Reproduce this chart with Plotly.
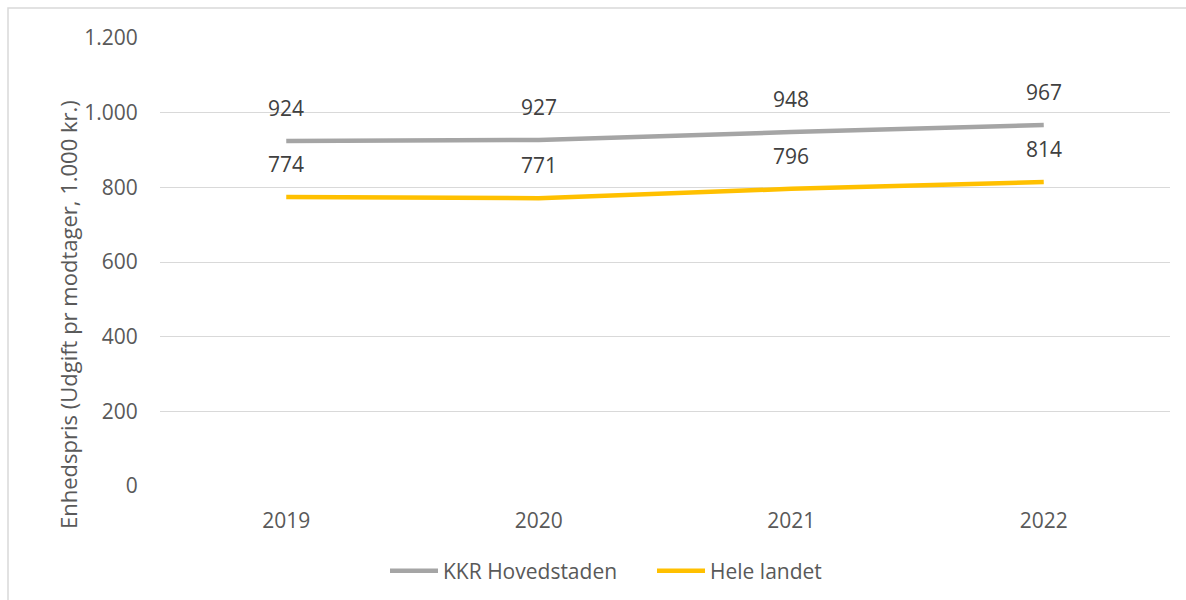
import plotly.graph_objects as go

years = ["2019", "2020", "2021", "2022"]
kkr_hovedstaden = [924, 927, 948, 967]
hele_landet = [774, 771, 796, 814]
y_ticks = [0, 200, 400, 600, 800, 1000, 1200]
y_tick_labels = ["0", "200", "400", "600", "800", "1.000", "1.200"]

series = [
    ("KKR Hovedstaden", kkr_hovedstaden, "#A5A5A5"),
    ("Hele landet", hele_landet, "#FFC000"),
]

FONT = "Open Sans"
SIZE = 21
fig = go.Figure()
annotations = []
for name, values, color in series:
    fig.add_trace(go.Scatter(
        x=years, y=values, name=name, mode="lines",
        line=dict(color=color, width=4.5),
    ))
    # value labels above each point (category index as x position)
    for i, v in enumerate(values):
        annotations.append(dict(
            x=i, y=v, xref="x", yref="y", text=str(v), showarrow=False,
            yshift=33, xanchor="center", yanchor="middle",
            font=dict(family=FONT, size=SIZE, color="#404040"),
        ))

# rotated axis title
annotations.append(dict(
    x=(68 - 160) / 1010, y=(486 - 315) / 448, xref="paper", yref="paper",
    text="Enhedspris (Udgift pr modtager, 1.000 kr.)",
    showarrow=False, textangle=-90, xanchor="center", yanchor="middle",
    font=dict(family=FONT, size=22, color="#595959"),
))

fig.update_layout(
    width=1186, height=600,
    margin=dict(l=160, r=16, t=38, b=114, autoexpand=False),
    paper_bgcolor="white", plot_bgcolor="white",
    font=dict(family=FONT, size=SIZE, color="#595959"),
    showlegend=True,
    legend=dict(
        orientation="h", x=(385 - 160) / 1010, xanchor="left",
        y=-0.19, yanchor="middle",
        font=dict(family=FONT, size=SIZE, color="#595959"),
        itemwidth=48, entrywidth=204, entrywidthmode="pixels", tracegroupgap=0,
    ),
    xaxis=dict(
        type="category", range=[-0.5, 3.5], showgrid=False, zeroline=False,
        showline=False, ticks="outside", ticklen=16, tickcolor="rgba(0,0,0,0)",
        tickfont=dict(family=FONT, size=SIZE, color="#595959"),
    ),
    yaxis=dict(
        range=[0, 1200], tickvals=y_ticks, ticktext=y_tick_labels,
        showgrid=True, gridcolor="#D9D9D9", gridwidth=1, zeroline=False,
        showline=False, ticks="outside", ticklen=17, tickcolor="rgba(0,0,0,0)",
        tickfont=dict(family=FONT, size=SIZE, color="#595959"),
    ),
    annotations=annotations,
    shapes=[dict(
        type="rect", xref="paper", yref="paper",
        x0=(8 - 160) / 1010, x1=1.2, y0=-0.5, y1=1 + 30 / 448,
        line=dict(color="#D9D9D9", width=1.5), fillcolor="rgba(0,0,0,0)", layer="below",
    )],
)

fig.write_html("out.html")
